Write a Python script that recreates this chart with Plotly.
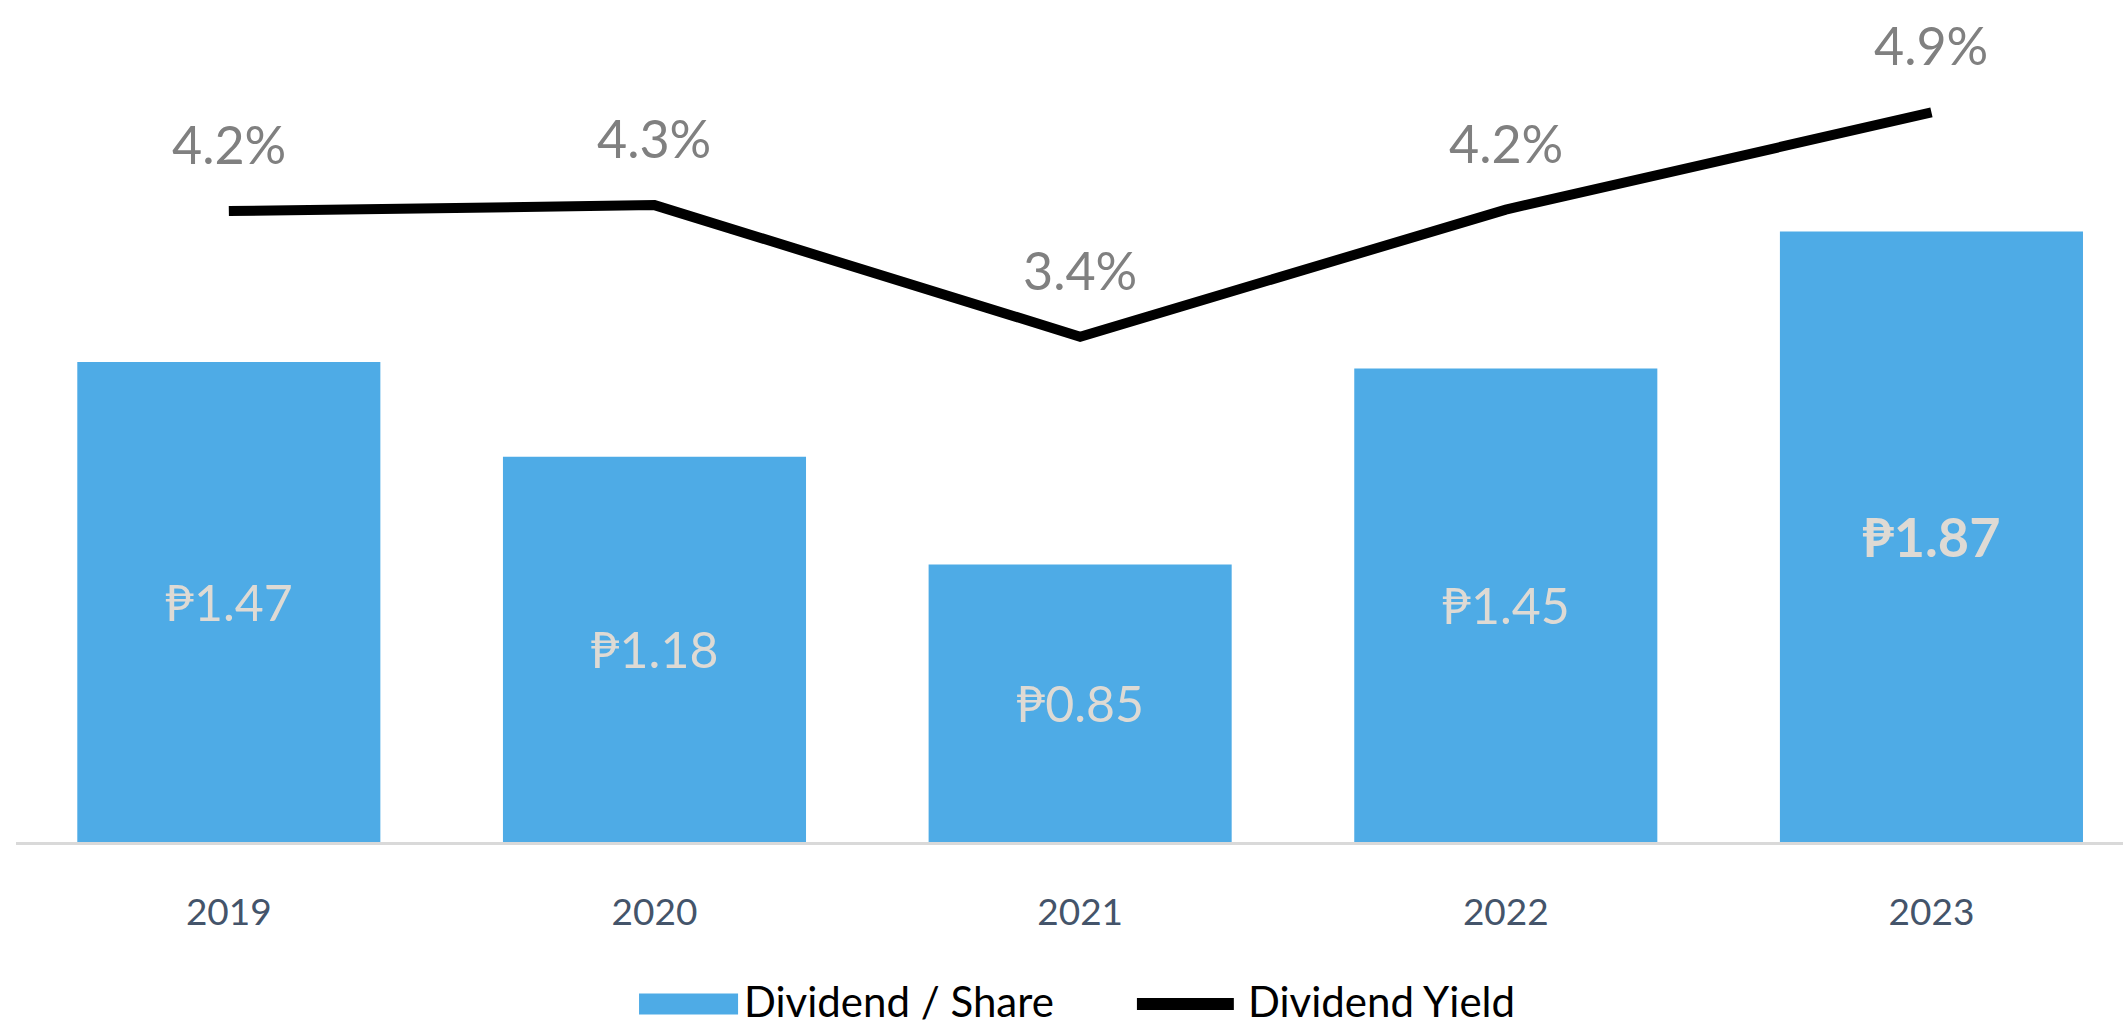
import plotly.graph_objects as go

years = ["2019", "2020", "2021", "2022", "2023"]
dividend_per_share = [1.47, 1.18, 0.85, 1.45, 1.87]
dividend_yield = [4.22, 4.26, 3.38, 4.23, 4.88]

BLUE = "#4EABE6"
FONT = "Lato, Carlito, sans-serif"

bar_text = [f"₱{v:.2f}" for v in dividend_per_share]
bar_text[-1] = f"<b>{bar_text[-1]}</b>"
bar_sizes = [50] * (len(years) - 1) + [54]

fig = go.Figure()

fig.add_trace(
    go.Bar(
        x=years,
        y=dividend_per_share,
        name="Dividend / Share",
        marker=dict(color=BLUE, line=dict(width=0)),
        text=bar_text,
        textposition="inside",
        insidetextanchor="middle",
        textangle=0,
        textfont=dict(family=FONT, size=bar_sizes, color="#DEDAD4"),
        hoverinfo="skip",
    )
)

fig.add_trace(
    go.Scatter(
        x=years,
        y=dividend_yield,
        name="Dividend Yield",
        mode="lines",
        line=dict(color="black", width=10),
        yaxis="y2",
        hoverinfo="skip",
    )
)

# percentage labels above the line (category index, numeric-looking names confuse annotations)
for i, v in enumerate(dividend_yield):
    fig.add_annotation(
        x=i,
        y=v,
        xref="x",
        yref="y2",
        text=f"{v:.1f}%",
        showarrow=False,
        yshift=67,
        font=dict(family=FONT, size=52, color="#808080"),
    )

# legend drawn by hand to get the wide swatches
fig.add_shape(
    type="rect", xref="paper", yref="paper",
    x0=0.2957, x1=0.3427, y0=-0.205, y1=-0.180,
    fillcolor=BLUE, line=dict(width=0),
)
fig.add_shape(
    type="line", xref="paper", yref="paper",
    x0=0.532, x1=0.578, y0=-0.1925, y1=-0.1925,
    line=dict(color="black", width=12),
)
for x0, label in [(0.3446, "Dividend / Share"), (0.5838, "Dividend Yield")]:
    fig.add_annotation(
        x=x0, y=-0.1885, xref="paper", yref="paper",
        xanchor="left", yanchor="middle",
        text=label, showarrow=False,
        font=dict(family=FONT, size=42, color="black"),
    )

hidden_axis = dict(
    showgrid=False,
    zeroline=False,
    showline=False,
    showticklabels=False,
    ticks="",
)

fig.update_layout(
    width=2123,
    height=1028,
    margin=dict(l=16, r=0, t=0, b=186),
    paper_bgcolor="white",
    plot_bgcolor="white",
    showlegend=False,
    bargap=0.288,
    font=dict(family=FONT, size=36, color="#44546A"),
    xaxis=dict(
        type="category",
        range=[-0.5, 4.45],
        showgrid=False,
        showline=True,
        linecolor="#D9D9D9",
        linewidth=3,
        ticks="outside",
        ticklen=36,
        tickcolor="rgba(0,0,0,0)",
        tickfont=dict(family=FONT, size=37, color="#44546A"),
    ),
    yaxis=dict(range=[0, 2.579], **hidden_axis),
    yaxis2=dict(range=[0, 5.632], overlaying="y", side="right", **hidden_axis),
)

fig.write_html(
    "out.html",
    config={"displayModeBar": False},
    post_script="document.body.style.margin='0';",
)
